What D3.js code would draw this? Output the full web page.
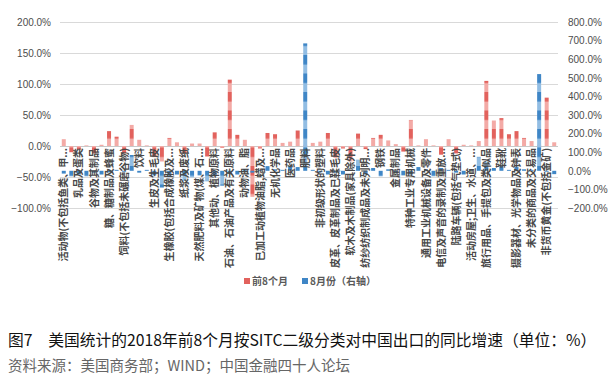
<!DOCTYPE html>
<html>
<head>
<meta charset="utf-8">
<script src="https://cdnjs.cloudflare.com/ajax/libs/d3/7.8.5/d3.min.js"></script>
<style>
  body { margin: 0; background: #fff; }
  svg { display: block; font-family: "Noto Sans CJK SC", "Liberation Sans", sans-serif; }
</style>
</head>
<body>
<div id="chart"></div>
<script>
let categories = [
  '活动物(不包括鱼类、甲壳类及软体类动物)', '肉及肉制品', '乳品及蛋类', '鱼、甲壳类、软体类动物及其制品',
  '谷物及其制品', '蔬菜及水果', '糖、糖制品及蜂蜜', '咖啡、茶、可可、调味料及其制品',
  '饲料(不包括未碾磨谷物)', '杂项食品', '饮料', '烟草及其制品',
  '生皮及生毛皮', '油籽及含油果实', '生橡胶(包括合成橡胶及再生橡胶)', '软木及木材',
  '纸浆及废纸', '纺织纤维及其废料', '天然肥料及矿物(煤、石油及宝石除外)', '金属矿砂及金属废料',
  '其他动、植物原料', '煤、焦炭及煤砖', '石油、石油产品及有关原料', '天然气及人造气',
  '动物油、脂', '植物油、脂', '已加工动植物油脂,蜡及动植物蜡', '有机化学品',
  '无机化学品', '染料、鞣料及着色料', '医药品', '精油、香料及盥洗、光洁制品',
  '肥料', '初级形状的塑料', '非初级形状的塑料', '其他化学原料及产品',
  '皮革、皮革制品及已鞣毛皮', '橡胶制品', '软木及木制品(家具除外)', '纸、纸板及纸浆、纸和纸板制品',
  '纺纱纺织制成品及未列明产品', '非金属矿物制品', '钢铁', '有色金属',
  '金属制品', '动力机械及设备', '特种工业专用机械', '金工机械',
  '通用工业机械设备及零件', '办公用机械及自动数据处理设备', '电信及声音的录制及重放装置设备', '电力机械、器具及其电气零件',
  '陆路车辆(包括气垫式)', '其他运输设备', '活动房屋;卫生、水道、供热及照明装置', '家具及其零件',
  '旅行用品、手提包及类似品', '服装及衣着附件', '鞋靴', '专业、科学及控制用仪器和装置',
  '摄影器材、光学物品及钟表', '杂项制品', '未分类的商品及交易品', '非货币用金币',
  '非货币黄金(不包括金矿)', '其他未分类商品'
];

// 前8个月 (left axis, %)
let first8Months = [
  11, -10, -6, 1, -12, 2, 24, 15, -12, 34, 10, 1,
  -18, -25, 13, 6, -12, 4, 4, -17, 22, -3, 107, 18,
  10, -82, -4, 21, 19, 5, 7, 25, 2, 5, 7, 21,
  -19, -4, -25, 20, -5, 13, 18, 9, 3, -9, 42, 1,
  11, 1, -14, 11, -12, 2, 1, 8, 105, 41, 45, 19,
  24, 13, 8, 2, 78, 6
];

// 8月份 (right axis, %)
let august = [
  -15, -30, -20, -30, -10, -20, -8, 5, -5, 85, -10, 5,
  -25, -90, -35, -20, -55, -35, -25, -57, -30, -80, -15, -20,
  10, -10, 5, 25, 8, 5, 25, 20, 685, 5, -8, -20,
  -10, -20, 5, 60, -20, 15, -30, 8, -10, -25, -20, 20,
  8, -30, 15, 5, -10, -20, 5, 75, 50, 15, 25, 5,
  20, 8, 5, 520, -5, -18
];

let leftTicks = [-100, -50, 0, 50, 100, 150, 200];
let rightTicks = [-200, -100, 0, 100, 200, 300, 400, 500, 600, 700, 800];
let seriesNames = ['前8个月', '8月份（右轴）'];
let titleText = '图7　美国统计的2018年前8个月按SITC二级分类对中国出口的同比增速（单位：%）';
let sourceText = '资料来源：美国商务部；WIND；中国金融四十人论坛';

let width = 613, height = 388;
let plot = { left: 60, right: 558, top: 22, bottom: 208 };
let maxLabelLength = 122;

let svg = d3.select('#chart').append('svg')
            .attr('width', width)
            .attr('height', height);

svg.append('rect').attr('width', width).attr('height', height).attr('fill', '#fff');

// striped fills, same phase for both series
let defs = svg.append('defs');
[['redFill', '#f3aaa6', '#e2625d'], ['blueFill', '#92bde3', '#3f86c6']].forEach(([id, light, dark]) => {
  let p = defs.append('pattern')
              .attr('id', id)
              .attr('patternUnits', 'userSpaceOnUse')
              .attr('x', 0).attr('y', 18)
              .attr('width', 10).attr('height', 18.5);
  p.append('rect').attr('width', 10).attr('height', 18.5).attr('fill', light);
  p.append('rect').attr('width', 10).attr('height', 9.5).attr('fill', dark);
});

let xScale = d3.scaleBand()
               .domain(categories)
               .range([plot.left, plot.right])
               .paddingInner(0.47)
               .paddingOuter(0.235);
let yLeft = d3.scaleLinear().domain([-100, 200]).range([plot.bottom, plot.top]);
let yRight = d3.scaleLinear().domain([-200, 800]).range([plot.bottom, plot.top]);
let pct = d => d3.format('.1f')(d) + '%';

// gridlines
svg.append('g')
   .attr('class', 'grid')
   .attr('transform', `translate(${plot.left}, 0)`)
   .call(d3.axisLeft(yLeft).tickValues(leftTicks).tickSize(-(plot.right - plot.left)).tickFormat(''))
   .call(g => g.select('.domain').remove())
   .selectAll('line')
   .attr('stroke', d => d === 0 ? '#c8c8c8' : '#d9d9d9');

// left axis labels
svg.append('g')
   .attr('transform', `translate(${plot.left - 9}, 0)`)
   .call(d3.axisLeft(yLeft).tickValues(leftTicks).tickSize(0).tickFormat(pct))
   .call(g => g.select('.domain').remove())
   .selectAll('text')
   .attr('x', 0)
   .style('font-family', '"Liberation Sans", Arial, sans-serif')
   .style('font-size', '10px')
   .attr('fill', '#4d4d4d');

// right axis labels
svg.append('g')
   .attr('transform', `translate(${plot.right + 10}, 0)`)
   .call(d3.axisRight(yRight).tickValues(rightTicks).tickSize(0).tickFormat(pct))
   .call(g => g.select('.domain').remove())
   .selectAll('text')
   .attr('x', 0)
   .style('font-family', '"Liberation Sans", Arial, sans-serif')
   .style('font-size', '10px')
   .attr('fill', '#4d4d4d');

// bars: both series sit on the category centre, blue over red
svg.append('g').selectAll('rect')
   .data(first8Months)
   .join('rect')
   .attr('x', (v, i) => xScale(categories[i]))
   .attr('width', xScale.bandwidth())
   .attr('y', v => Math.min(yLeft(v), yLeft(0)))
   .attr('height', v => Math.abs(yLeft(v) - yLeft(0)))
   .attr('fill', 'url(#redFill)');

svg.append('g').selectAll('rect')
   .data(august)
   .join('rect')
   .attr('x', (v, i) => xScale(categories[i]))
   .attr('width', xScale.bandwidth())
   .attr('y', v => Math.min(yRight(v), yRight(0)))
   .attr('height', v => Math.abs(yRight(v) - yRight(0)))
   .attr('fill', 'url(#blueFill)');

// category labels, every other one
svg.append('g')
   .attr('transform', `translate(0, ${yLeft(0)})`)
   .call(d3.axisBottom(xScale)
           .tickValues(categories.filter((c, i) => i % 2 === 0))
           .tickSize(0))
   .call(g => g.select('.domain').remove())
   .selectAll('text')
   .attr('transform', 'rotate(-90)')
   .attr('text-anchor', 'end')
   .attr('x', -2)
   .attr('y', 0)
   .attr('dy', '0.36em')
   .style('font-family', '"Noto Sans CJK SC", sans-serif')
   .style('font-size', '10px')
   .style('font-weight', 'bold')
   .attr('fill', '#484848')
   .each(function(d) {
     // cut long names with "..." like Excel does
     let t = d3.select(this);
     let s = d;
     while (this.getComputedTextLength() > maxLabelLength && s.length > 1) {
       s = s.slice(0, -1);
       t.text(s + '...');
     }
   });

// legend
let legend = svg.append('g').attr('transform', 'translate(244, 281)');
let legendX = [0, 58];
seriesNames.forEach((name, i) => {
  let item = legend.append('g').attr('transform', `translate(${legendX[i]}, 0)`);
  item.append('rect')
      .attr('y', -3).attr('width', 6).attr('height', 6)
      .attr('fill', i === 0 ? '#e2625d' : '#3f86c6');
  item.append('text')
      .attr('x', 8).attr('dy', '0.35em')
      .style('font-size', '10px')
      .style('font-weight', 'bold')
      .attr('fill', '#595959')
      .text(name);
});

svg.append('text')
   .attr('x', 8).attr('y', 346)
   .style('font-size', '15.75px')
   .attr('fill', '#111')
   .text(titleText);

svg.append('text')
   .attr('x', 8).attr('y', 371)
   .style('font-size', '14.5px')
   .attr('fill', '#666')
   .text(sourceText);
</script>
</body>
</html>
